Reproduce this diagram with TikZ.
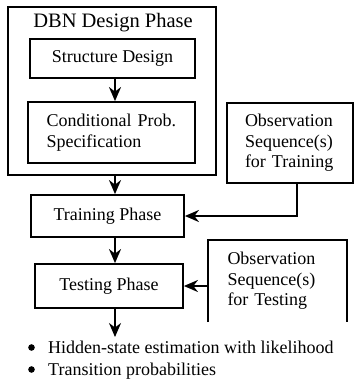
\documentclass[tikz,border=0pt]{standalone}
\usepackage{fontspec}
\setmainfont{Liberation Serif}
\usetikzlibrary{arrows.meta, positioning}

\begin{document}
\begin{tikzpicture}[
    x=1pt, y=-1pt,
    phasebox/.style={rectangle, draw, line width=1.8pt, inner sep=0pt, font=\fontsize{18}{20.5}\selectfont},
    obsbox/.style={rectangle, inner sep=0pt, align=left, font=\fontsize{18}{20.5}\selectfont},
    result/.style={anchor=base west, inner sep=0pt, font=\fontsize{18}{20}\selectfont},
    arrow/.style={-{Stealth[length=14pt, width=12pt, inset=4.5pt]}, line width=1.8pt}
]
    \useasboundingbox (0,0) rectangle (355,383);

    % DBN design phase
    \node[phasebox, minimum width=208pt, minimum height=168pt] (dbn) at (112,91) {};
    \node[font=\fontsize{20.5}{24}\selectfont] (title) at (113,23) {DBN Design Phase};
    \node[phasebox, minimum width=165pt, minimum height=39pt] (struct) at (112.5,58.5) {Structure Design};
    \node[phasebox, minimum width=167pt, minimum height=61pt, text width=130pt, align=left] (cpt) at (111.5,132.5) {Conditional Prob.\\Specification};

    % Training and testing
    \node[phasebox, minimum width=153pt, minimum height=42pt] (train) at (107.5,216) {Training Phase};
    \node[phasebox, minimum width=148pt, minimum height=44pt] (test) at (109,286) {Testing Phase};

    % Observation sequences
    \node[obsbox, draw, line width=1.8pt, minimum width=126pt, minimum height=80pt, text width=90pt] (obstrain) at (290,143) {Observation\\Sequence(s)\\for Training};
    \node[obsbox, minimum width=139pt, minimum height=82pt, text width=100pt] (obstest) at (277.5,281) {Observation\\Sequence(s)\\for Testing};
    \draw[line width=1.8pt] (obstest.south west) -- (obstest.north west) -- (obstest.north east) -- (obstest.south east);

    % Helper coordinates
    \coordinate (spine) at (115,0);
    \coordinate (drop) at (297,0);
    \coordinate (out) at (115,337);

    % Arrows
    \draw[arrow] (struct.south -| spine) -- (cpt.north -| spine);
    \draw[arrow] (dbn.south -| spine) -- (train.north -| spine);
    \draw[arrow] (train.south -| spine) -- (test.north -| spine);
    \draw[arrow] (test.south -| spine) -- (out);
    \draw[arrow] (obstrain.south -| drop) |- (train.east);
    \draw[arrow] (test.east -| obstest.west) -- (test.east);

    % Results
    \node[result] (likelihood) at (48,353) {Hidden-state estimation with likelihood};
    \node[result] (transprob) at (48,375) {Transition probabilities};
    \fill (31.5,347.5) circle (3.3pt);
    \fill (31.5,369.5) circle (3.3pt);
\end{tikzpicture}
\end{document}
